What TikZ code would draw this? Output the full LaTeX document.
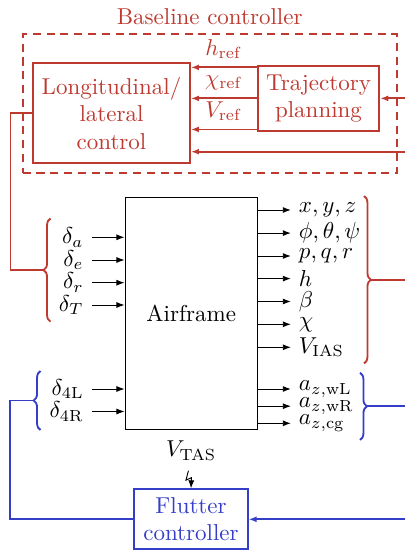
\documentclass[tikz,border=0pt]{standalone}
\usetikzlibrary{positioning,arrows.meta,calc,decorations.pathreplacing}
\definecolor{baseRed}{RGB}{190,58,48}
\definecolor{flutBlue}{RGB}{52,62,200}
\tikzset{
	ctrlbox/.style={
		draw,
		thick,
		align=center,
		inner sep=2pt,
	},
	plantbox/.style={
		draw,
		align=center,
	},
	sig/.style={-{Latex[length=3.5pt,width=2.6pt]}},
	redline/.style={thick, draw=baseRed},
	blueline/.style={thick, draw=flutBlue},
	bracket/.style={thick, decorate, decoration={brace, amplitude=3pt}},
}

\begin{document}
\begin{tikzpicture}[x=0.435pt, y=-0.435pt]
	\useasboundingbox (0,0) rectangle (405,550);
	
	% --- Baseline controller ---
	\node[draw=baseRed, thick, dash pattern=on 3.5pt off 2.5pt, minimum width=162.7pt, minimum height=60.5pt] (base) at (209.7,103.8) {};
	\node[text=baseRed, above=0pt of base] (basetitle) {Baseline controller};
	\node[ctrlbox, draw=baseRed, text=baseRed, minimum width=68.3pt, minimum height=43.5pt] (lonlat) at (111.5,113.3) {Longitudinal/\\lateral\\control};
	\node[ctrlbox, draw=baseRed, text=baseRed, minimum width=52.9pt, minimum height=28.4pt] (traj) at (318.5,98.4) {Trajectory\\planning};
	
	% references
	\coordinate (hr) at ([yshift=-1.1pt]traj.north west);
	\coordinate (vr) at ([yshift=1.1pt]traj.south west);
	\draw[redline, sig] (hr) -- (hr -| lonlat.east) node[midway, above, text=baseRed] {$h_{\mathrm{ref}}$};
	\draw[redline, sig] (traj.west) -- (traj.west -| lonlat.east) node[midway, above, text=baseRed] {$\chi_{\mathrm{ref}}$};
	\draw[redline, sig] (vr) -- (vr -| lonlat.east) node[midway, above, text=baseRed] {$V_{\mathrm{ref}}$};
	
	% feedback into the baseline controller
	\coordinate (trajin) at (405,98.4);
	\coordinate (lonin) at (405,151.7);
	\draw[redline, sig] (trajin) -- (traj.east);
	\draw[redline, sig] (lonin) -- (lonin -| lonlat.east);
	
	% --- Airframe ---
	\node[plantbox, minimum width=57.6pt, minimum height=100.9pt] (plant) at (191.2,313.3) {Airframe};
	
	\foreach \y/\lab [count=\i] in {237.3/{\delta_a}, 260/{\delta_e}, 282.7/{\delta_r}, 305/{\delta_T}, 389/{\delta_{4\mathrm{L}}}, 411.5/{\delta_{4\mathrm{R}}}}{
		\coordinate (u\i) at (91.7,\y);
		\node[left, inner ysep=0.5pt] (ulab\i) at (u\i) {$\lab$};
		\draw[sig] (u\i) -- (u\i -| plant.west);
	}
	\foreach \y/\lab [count=\i] in {210/{x, y, z}, 233.1/{\phi, \theta, \psi}, 256/{p, q, r}, 278.6/{h}, 301.5/{\beta}, 324.3/{\chi}, 347.3/{V_{\mathrm{IAS}}}, 389/{a_{z,\mathrm{wL}}}, 406.2/{a_{z,\mathrm{wR}}}, 423.3/{a_{z,\mathrm{cg}}}}{
		\coordinate (o\i) at (plant.east |- 0,\y);
		\draw[sig] (o\i) -- ++(33,0) node[right, inner ysep=0.2pt] (olab\i) {$\lab$};
	}
	
	% --- Braces ---
	\coordinate (lrtip) at (43.6,270.1);
	\coordinate (rrtip) at (371,279.8);
	\coordinate (lbtip) at (33.6,400.5);
	\coordinate (rbtip) at (367,406.4);
	\draw[redline, bracket] (50.5,321.7) -- (50.5,218.5);
	\draw[redline, bracket] (364,196) -- (364,363.5);
	\draw[blueline, bracket] (40.5,430) -- (40.5,371);
	\draw[blueline, bracket] (360,372.7) -- (360,440);
	
	% --- Flutter controller ---
	\node[below=1.4pt of plant] (vtas) {$V_{\mathrm{TAS}}$};
	\node[ctrlbox, draw=flutBlue, text=flutBlue, minimum width=49.3pt, minimum height=26.1pt] (flutter) at (191,519.3) {Flutter\\controller};
	\draw[sig] ([xshift=-1.2pt,yshift=-1pt]vtas.south) -- ++(-2.5,9.5) -- ++(5.5,-2.5) -- (flutter.north);
	
	% --- Loops ---
	\coordinate (redL) at (10.5,270.1);
	\coordinate (blueL) at (10,519.3);
	\coordinate (redR) at (405,279.8);
	\coordinate (blueR) at (405,406.4);
	\coordinate (flutin) at (405,519.3);
	\draw[redline] (lonlat.west) -| (redL) -- (lrtip);
	\draw[redline] (rrtip) -- (redR);
	\draw[blueline] (lbtip) -| (blueL) -- (flutter.west);
	\draw[blueline] (rbtip) -- (blueR);
	\draw[blueline, sig] (flutin) -- (flutter.east);
\end{tikzpicture}
\end{document}
